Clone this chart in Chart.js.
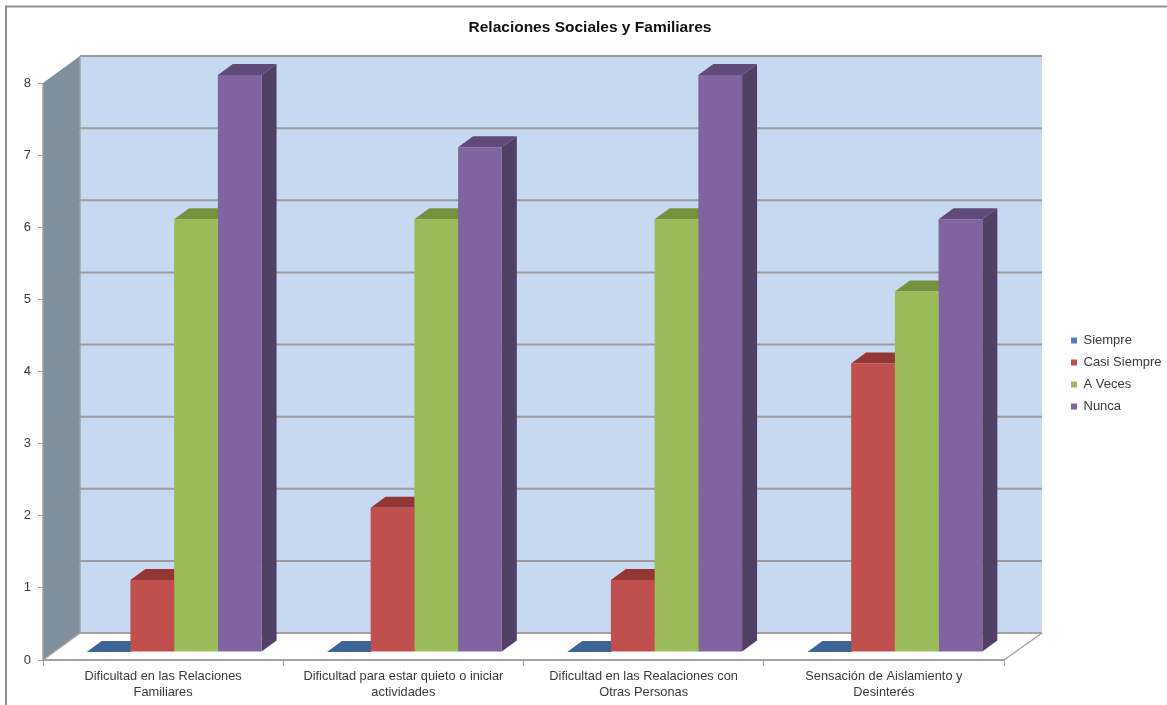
<!DOCTYPE html>
<html>
<head>
<meta charset="utf-8">
<title>Relaciones Sociales y Familiares</title>
<style>
  html, body { margin: 0; padding: 0; background: #fff; }
  #wrap { position: relative; width: 1167px; height: 705px; }
</style>
<script src="https://cdn.jsdelivr.net/npm/chart.js@4"></script>
</head>
<body>
<div id="wrap"><canvas id="chart" width="1167" height="705"></canvas></div>
<script>
const chartTitle = 'Relaciones Sociales y Familiares';
const categories = [
  ['Dificultad en las Relaciones', 'Familiares'],
  ['Dificultad para estar quieto o iniciar', 'actividades'],
  ['Dificultad en las Realaciones con', 'Otras Personas'],
  ['Sensación de Aislamiento y', 'Desinterés']
];
const siempre = [0, 0, 0, 0];
const casiSiempre = [1, 2, 1, 4];
const aVeces = [6, 6, 6, 5];
const nunca = [8, 7, 8, 6];

const fontName = '"Liberation Sans", Arial, sans-serif';
const textColor = '#3a3a3a';
const edgeColor = '#a3a3a3';

// front, top and side shades for each series
const shades = [
  { front: '#4f81bd', top: '#3c6494', side: '#2f4f76' },
  { front: '#c0504d', top: '#943634', side: '#7a2c2a' },
  { front: '#9bbb59', top: '#76923c', side: '#5f7530' },
  { front: '#8064a2', top: '#604a7b', side: '#523f66' }
];

// box depth: the floor and walls run back by wallDepth, bars sit in the middle
const wallDepth = { x: 37, y: -27 };
const barDepth = { x: 15, y: -11 };
const barShift = { x: 11, y: -8 };

function poly(ctx, fill, pts) {
  ctx.fillStyle = fill;
  ctx.beginPath();
  pts.forEach((p, i) => i ? ctx.lineTo(p[0], p[1]) : ctx.moveTo(p[0], p[1]));
  ctx.closePath();
  ctx.fill();
}

function line(ctx, color, width, x1, y1, x2, y2) {
  ctx.strokeStyle = color;
  ctx.lineWidth = width;
  ctx.beginPath();
  ctx.moveTo(x1, y1);
  ctx.lineTo(x2, y2);
  ctx.stroke();
}

const box3d = {
  id: 'box3d',
  // the chart frame, walls and floor go under everything
  beforeDraw(chart) {
    const { ctx, chartArea: a, scales } = chart;
    const dx = wallDepth.x, dy = wallDepth.y;
    ctx.save();
    line(ctx, '#8f8f8f', 2, 6, 705, 6, 6);
    line(ctx, '#8f8f8f', 2, 5, 6.5, 1167, 6.5);

    poly(ctx, '#c6d9f1', [[a.left + dx, a.top + dy], [a.right + dx + 1, a.top + dy], [a.right + dx + 1, a.bottom + dy], [a.left + dx, a.bottom + dy]]);
    poly(ctx, '#7f8f9c', [[a.left, a.top], [a.left + dx, a.top + dy], [a.left + dx, a.bottom + dy], [a.left, a.bottom]]);

    // floor edges
    line(ctx, edgeColor, 1.5, a.left, a.top, a.left, a.bottom);
    line(ctx, edgeColor, 1.5, a.left + dx, a.top + dy, a.left + dx, a.bottom + dy);
    line(ctx, edgeColor, 1.5, a.left, a.bottom, a.left + dx, a.bottom + dy);
    line(ctx, edgeColor, 1.5, a.right, a.bottom, a.right + dx + 1, a.bottom + dy);
    line(ctx, edgeColor, 2, a.left + dx, a.bottom + dy, a.right + dx + 1, a.bottom + dy);

    // gridlines across the back wall and down the side wall
    scales.y.ticks.forEach(t => {
      const y = scales.y.getPixelForValue(t.value);
      if (t.value > 0) line(ctx, '#9c9c9c', 2, a.left + dx, y + dy, a.right + dx + 1, y + dy);
      if (t.value > 0 && t.value < 8) line(ctx, '#8a8a8a', 1, a.left, y, a.left + dx, y + dy);
    });
    ctx.restore();
  },
  // top and side faces first, the library then paints the fronts over them
  beforeDatasetsDraw(chart) {
    const { ctx } = chart;
    const dx = barDepth.x, dy = barDepth.y;
    ctx.save();
    ctx.translate(barShift.x, barShift.y);
    chart.data.labels.forEach((_, i) => {
      chart.data.datasets.forEach((ds, d) => {
        const bar = chart.getDatasetMeta(d).data[i];
        const left = bar.x - bar.width / 2, right = bar.x + bar.width / 2;
        poly(ctx, shades[d].side, [[right, bar.y], [right + dx, bar.y + dy], [right + dx, bar.base + dy], [right, bar.base]]);
        poly(ctx, shades[d].top, [[left, bar.y], [left + dx, bar.y + dy], [right + dx, bar.y + dy], [right, bar.y]]);
      });
    });
    ctx.restore();
    ctx.save();
    ctx.translate(barShift.x, barShift.y);
  },
  afterDatasetsDraw(chart) {
    chart.ctx.restore();
  },
  // title and legend sit outside the plot's own layout
  afterLayout(chart) {
    chart.titleBlock.left = 13;
    chart.titleBlock.right = 1167;
    const lg = chart.legend;
    const w = lg.width, h = lg.height;
    lg.left = 1062;
    lg.right = lg.left + w;
    lg.top = 85;
    lg.bottom = lg.top + h;
    lg.adjustHitBoxes();
  }
};

new Chart(document.getElementById('chart'), {
  type: 'bar',
  data: {
    labels: categories,
    datasets: [
      { label: 'Siempre', data: siempre, backgroundColor: shades[0].front },
      { label: 'Casi Siempre', data: casiSiempre, backgroundColor: shades[1].front },
      { label: 'A Veces', data: aVeces, backgroundColor: shades[2].front },
      { label: 'Nunca', data: nunca, backgroundColor: shades[3].front }
    ]
  },
  options: {
    responsive: false,
    animation: false,
    layout: { padding: { left: 0, right: 163, top: 0, bottom: 0 } },
    datasets: { bar: { categoryPercentage: 0.728, barPercentage: 1 } },
    scales: {
      x: {
        afterFit(s) { s.height = 45; },
        grid: { drawOnChartArea: false, color: edgeColor, lineWidth: 1, tickLength: 6 },
        border: { color: edgeColor, width: 2 },
        ticks: { color: textColor, font: { family: fontName, size: 12.8 }, padding: 3, maxRotation: 0 }
      },
      y: {
        min: 0,
        max: 8,
        afterFit(s) { s.width = 43; },
        grid: { drawOnChartArea: false, color: edgeColor, tickLength: 5 },
        border: { display: false },
        ticks: { stepSize: 1, color: textColor, font: { family: fontName, size: 13 }, padding: 7 }
      }
    },
    plugins: {
      title: {
        display: true,
        text: chartTitle,
        color: '#111',
        font: { family: fontName, size: 15.5, weight: 'bold' },
        padding: { top: 18, bottom: 46.5 }
      },
      legend: {
        position: 'chartArea',
        labels: {
          boxWidth: 6,
          boxHeight: 6,
          padding: 9,
          color: textColor,
          font: { family: fontName, size: 13 }
        }
      },
      tooltip: { enabled: false }
    }
  },
  plugins: [box3d]
});
</script>
</body>
</html>
